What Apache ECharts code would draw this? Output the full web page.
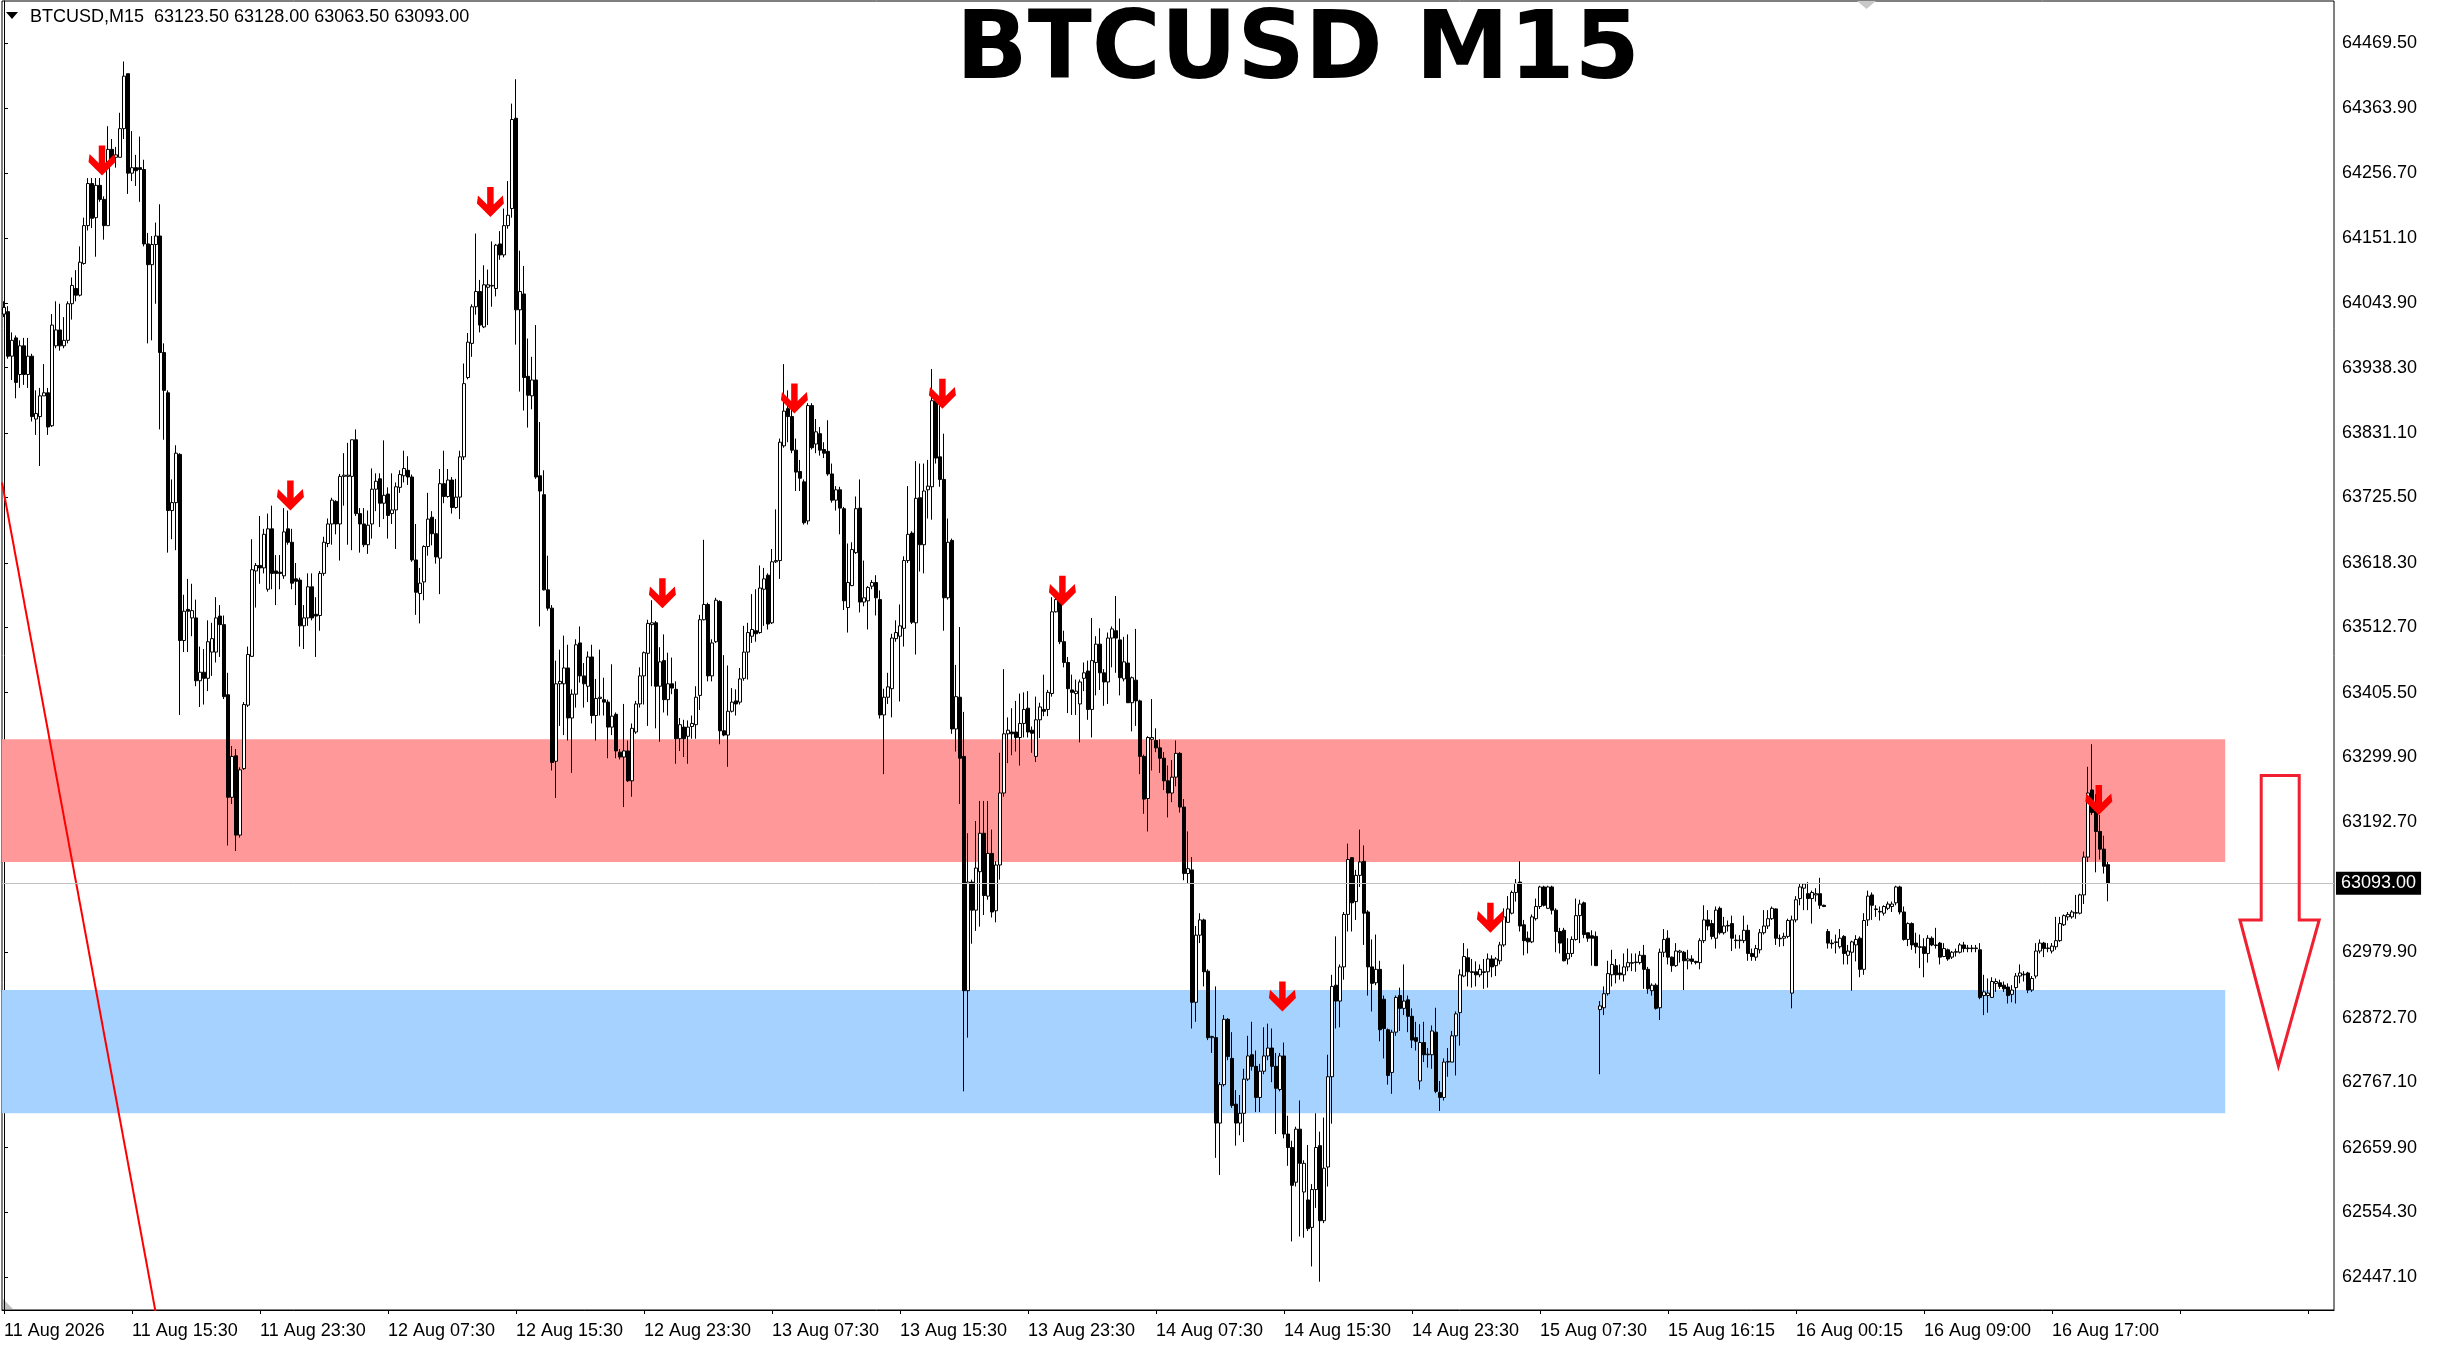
<!DOCTYPE html>
<html><head><meta charset="utf-8">
<script src="https://cdn.jsdelivr.net/npm/echarts@6/dist/echarts.min.js"></script>
<style>html,body{margin:0;padding:0;background:#fff;}#c{width:2437px;height:1346px;}</style>
</head><body><div id="c"></div>
<script>
const headerText = 'BTCUSD,M15  63123.50 63128.00 63063.50 63093.00';
const titleText = 'BTCUSD M15';

const opens = [
64026,64030,63957,63987,63927,63974,63927,63957,63854,63858,
63892,63897,63843,63974,64000,63974,63983,64043,64068,64057,
64109,64171,64240,64184,64237,64214,64171,64296,64283,64283,
64330,64420,64257,64266,64266,64263,64141,64107,64140,64154,
63963,63897,63704,63717,63796,63491,63542,63528,63528,63425,
63439,63429,63472,63472,63531,63517,63402,63234,63302,63172,
63281,63385,63465,63605,63614,63610,63575,63674,63605,63603,
63597,63674,63652,63592,63590,63515,63528,63579,63534,63532,
63601,63650,63682,63719,63682,63760,63760,63760,63820,63699,
63682,63648,63682,63739,63756,63716,63731,63699,63705,63742,
63761,63770,63759,63623,63568,63587,63645,63693,63666,63626,
63748,63727,63754,63709,63726,63792,63922,63978,64038,64063,
64005,64070,64072,64068,64141,64123,64171,64199,64347,64033,
64059,63924,63892,63918,63761,63730,63574,63544,63293,63420,
63420,63446,63364,63403,63487,63433,63416,63464,63368,63396,
63394,63390,63349,63370,63308,63300,63310,63261,63341,63387,
63433,63470,63517,63520,63416,63458,63394,63420,63411,63330,
63349,63334,63350,63353,63401,63525,63550,63433,63489,63555,
63343,63336,63375,63392,63390,63429,63472,63498,63507,63504,
63575,63598,63520,63620,63622,63810,63871,63858,63803,63768,
63751,63687,63876,63813,63830,63804,63801,63764,63721,63738,
63707,63545,63581,63635,63708,63554,63556,63580,63586,63558,
63369,63398,63412,63494,63498,63511,63622,63667,63520,63725,
63648,63738,63743,63884,63792,63755,63561,63655,63346,63398,
63301,62917,63095,63049,63112,63175,63072,63142,63048,63123,
63241,63338,63341,63341,63332,63355,63380,63344,63301,63361,
63378,63378,63404,63538,63558,63489,63455,63410,63404,63387,
63429,63441,63378,63455,63485,63438,63423,63495,63507,63492,
63428,63454,63389,63426,63392,63301,63232,63329,63327,63315,
63298,63261,63241,63267,63306,63218,63109,63115,62898,63008,
63033,62949,62840,62840,62700,62763,62870,62806,62731,62700,
62716,62772,62812,62793,62742,62785,62810,62823,62793,62755,
62810,62682,62660,62603,62690,62587,62574,62529,62591,62663,
62540,62628,62776,62926,62900,62956,63042,63135,63063,63106,
63129,63046,62956,62930,62952,62903,62853,62783,62849,62909,
62888,62902,62875,62840,62769,62832,62812,62812,62849,62750,
62742,62800,62800,62843,62881,62941,62971,62948,62948,62943,
62948,62948,62969,62958,62966,62992,63029,63044,63078,63095,
63025,63003,62997,63035,63055,63087,63052,63087,63049,63014,
63016,62969,62978,63001,63040,63061,63012,63007,63006,62886,
62889,62912,62943,62958,62946,62943,62956,62962,62963,62963,
62975,62952,62917,62926,62889,62980,63003,62972,62958,62980,
62980,62966,62969,62965,62963,62999,63033,63027,63003,63052,
63012,63023,63027,62999,62999,62999,63016,62978,62972,62984,
63012,63023,63035,63051,63003,63003,63006,62913,63033,63068,
63085,63076,63068,63074,63076,63057,63014,62995,62996,62989,
63006,62975,62980,62992,63003,62952,63033,63074,63051,63046,
63044,63052,63055,63061,63087,63046,63001,63027,62995,62989,
62989,62978,63003,62992,62995,62973,62984,62972,62980,62980,
62992,62986,62987,62986,62984,62909,62909,62906,62929,62930,
62926,62923,62911,62922,62941,62943,62946,62918,62941,62982,
62995,62986,62982,62989,62999,63025,63038,63038,63044,63044,
63074,63136,63246,63212,63178,63149,63123.5
];
const highs = [
64047,64039,63996,63991,63983,63987,63987,63961,63901,63905,
63944,63905,64026,64047,64043,64021,64047,64086,64098,64137,
64184,64249,64249,64249,64249,64219,64334,64313,64300,64356,
64440,64420,64326,64287,64317,64279,64159,64154,64176,64206,
63978,63901,63755,63811,63798,63566,63592,63584,63558,63481,
63477,63524,63520,63562,63549,63532,63438,63318,63313,63283,
63390,63481,63657,63618,63695,63674,63699,63712,63631,63631,
63708,63704,63674,63618,63594,63549,63601,63601,63562,63605,
63661,63691,63725,63721,63764,63798,63815,63820,63837,63708,
63708,63704,63773,63765,63765,63819,63742,63765,63750,63770,
63802,63793,63763,63682,63610,63647,63733,63703,63690,63772,
63802,63772,63759,63756,63802,63945,63995,64042,64158,64082,
64106,64099,64145,64141,64162,64199,64244,64371,64411,64130,
64105,63986,63956,64008,63849,63770,63630,63549,63458,63476,
63499,63484,63411,63493,63514,63454,63473,63484,63428,63476,
63430,63394,63452,63373,63313,63387,63327,63355,63392,63447,
63473,63525,63557,63523,63480,63501,63471,63463,63424,63364,
63361,63360,63368,63416,63533,63656,63553,63493,63561,63557,
63467,63450,63413,63411,63446,63515,63520,63567,63575,63614,
63610,63601,63641,63706,63822,63944,63901,63876,63822,63787,
63755,63880,63880,63854,63841,63816,63852,63781,63744,63743,
63710,63650,63652,63727,63755,63622,63580,63590,63598,63573,
63412,63438,63502,63524,63550,63629,63744,63670,63785,63781,
63781,63787,63936,63888,63888,63830,63691,63658,63451,63513,
63374,63175,63099,63195,63228,63228,63228,63181,63129,63307,
63444,63365,63380,63392,63404,63406,63408,63350,63399,63389,
63435,63410,63562,63564,63562,63507,63464,63435,63427,63427,
63455,63458,63528,63498,63511,63444,63504,63514,63564,63527,
63497,63501,63432,63510,63394,63304,63334,63395,63347,63329,
63308,63286,63295,63327,63308,63231,63178,63136,63023,63044,
63035,62952,62843,62924,62767,62877,62872,62849,62754,62746,
62789,62843,62866,62819,62797,62857,62863,62855,62815,62815,
62832,62712,62671,62694,62737,62639,62664,62600,62716,62686,
62709,62812,62943,63006,62960,63046,63158,63136,63115,63181,
63155,63049,63001,63009,62966,62909,62855,62853,62909,62922,
62960,62909,62888,62866,62862,62866,62823,62860,62889,62769,
62806,62823,62851,62883,62952,62995,62986,62969,62965,62960,
62969,62978,62975,62972,62997,63052,63072,63081,63100,63129,
63033,63014,63042,63068,63089,63089,63089,63089,63052,63020,
63020,63003,63006,63068,63066,63063,63012,63016,63014,62900,
62924,62966,62984,62969,62960,62978,62986,62978,62978,62982,
62992,62956,62929,62929,62986,63018,63016,62973,62995,62984,
62982,62984,62975,62966,63003,63057,63049,63033,63055,63055,
63038,63032,63040,63009,63008,63040,63025,62986,62992,63018,
63049,63049,63055,63052,63009,63012,63035,63040,63072,63092,
63093,63095,63081,63085,63102,63058,63018,63001,63009,63018,
63008,62992,62999,63008,63006,63044,63081,63078,63057,63055,
63057,63063,63063,63089,63089,63055,63029,63029,63012,63009,
63003,63008,63006,63020,62997,62995,62986,62982,62986,62995,
62997,62992,62992,62992,62995,62943,62937,62939,62937,62935,
62932,62929,62926,62946,62960,62949,62948,62941,62995,63001,
62997,62995,62995,63038,63038,63042,63046,63049,63074,63076,
63145,63284,63321,63239,63205,63171,63128
];
const lows = [
64021,63953,63918,63888,63905,63910,63905,63850,63828,63777,
63892,63828,63841,63970,63966,63970,63978,64017,64047,64055,
64107,64163,64167,64120,64210,64148,64171,64274,64266,64283,
64313,64223,64244,64236,64210,64137,63978,63983,64043,63837,
63820,63635,63657,63639,63369,63472,63472,63498,63416,63382,
63386,63408,63433,63455,63464,63395,63155,63223,63146,63168,
63279,63382,63464,63545,63584,63601,63571,63575,63549,63575,
63592,63648,63575,63549,63481,63477,63515,63524,63464,63507,
63597,63644,63648,63665,63622,63712,63648,63639,63695,63635,
63644,63633,63658,63703,63677,63690,63658,63682,63641,63733,
63750,63746,63620,63533,63519,63557,63630,63647,63617,63567,
63716,63725,63699,63707,63690,63787,63919,63956,64025,63996,
64003,64008,64038,64055,64115,64119,64166,64184,63976,63899,
63868,63840,63870,63756,63514,63573,63540,63278,63233,63351,
63336,63327,63274,63381,63422,63381,63390,63355,63327,63368,
63368,63298,63336,63298,63296,63218,63259,63235,63338,63381,
63386,63351,63416,63347,63325,63373,63368,63403,63289,63310,
63300,63289,63330,63330,63377,63524,63424,63424,63487,63321,
63334,63284,63373,63368,63386,63425,63427,63487,63489,63502,
63515,63509,63518,63618,63592,63807,63816,63798,63736,63736,
63681,63681,63804,63798,63794,63790,63761,63717,63704,63665,
63541,63504,63580,63633,63537,63547,63509,63575,63532,63363,
63272,63387,63365,63489,63391,63481,63618,63518,63468,63604,
63601,63691,63689,63781,63743,63507,63558,63338,63309,63223,
62752,62840,62994,63015,63022,63041,63066,63037,63029,63099,
63235,63290,63303,63309,63286,63332,63332,63307,63292,63331,
63367,63367,63399,63537,63485,63447,63372,63369,63369,63324,
63408,63361,63332,63401,63410,63384,63387,63447,63438,63401,
63424,63389,63342,63351,63272,63207,63178,63278,63308,63274,
63246,63201,63226,63252,63209,63098,63093,62855,62866,62995,
62924,62836,62815,62643,62615,62760,62803,62725,62663,62680,
62669,62769,62786,62718,62718,62780,62803,62767,62682,62752,
62675,62630,62506,62596,62514,62512,62523,62465,62561,62440,
62536,62596,62699,62855,62857,62935,63014,63014,63033,63087,
62992,62909,62883,62926,62834,62806,62763,62748,62843,62851,
62877,62849,62823,62819,62755,62800,62791,62789,62749,62720,
62737,62776,62800,62778,62827,62939,62924,62922,62924,62939,
62920,62922,62939,62941,62960,62989,63029,63042,63063,63014,
62975,62978,62995,63032,63051,63055,63051,63042,62980,62978,
62965,62960,62972,62999,62995,63003,62997,62958,62958,62780,
62877,62909,62924,62929,62935,62932,62949,62949,62948,62960,
62920,62912,62909,62886,62869,62972,62960,62948,62956,62963,
62918,62952,62960,62960,62952,62995,63016,63001,62986,63009,
63009,63014,62982,62986,62986,62995,62966,62966,62966,62978,
63009,63018,63033,62992,62989,62990,63003,62888,63029,63057,
63049,63049,63027,63063,63051,63054,62986,62986,62978,62986,
62960,62960,62917,62965,62939,62943,63023,63033,63038,63032,
63040,63049,63046,63057,63042,62999,62990,62984,62978,62954,
62939,62963,62990,62986,62960,62972,62966,62969,62973,62978,
62980,62980,62980,62980,62903,62877,62881,62905,62915,62920,
62915,62896,62898,62896,62929,62932,62913,62915,62937,62978,
62972,62980,62978,62984,62997,63023,63032,63035,63035,63042,
63059,63128,63205,63111,63132,63109,63063.5
];
const closes = [
64037,63957,63983,63914,63974,63927,63957,63858,63863,63892,
63897,63841,64008,64000,63974,63983,64043,64073,64057,64111,
64171,64240,64183,64237,64214,64171,64296,64279,64287,64330,
64416,64257,64266,64261,64263,64141,64107,64140,64154,63963,
63901,63704,63717,63798,63491,63539,63539,63540,63425,63439,
63429,63489,63494,63528,63517,63399,63234,63301,63172,63279,
63386,63468,63607,63614,63610,63665,63674,63601,63601,63601,
63669,63652,63585,63588,63515,63528,63579,63528,63531,63601,
63652,63682,63721,63682,63760,63762,63762,63820,63699,63682,
63648,63680,63739,63752,63716,63729,63696,63705,63743,63763,
63773,63759,63623,63570,63585,63645,63690,63666,63628,63748,
63727,63754,63709,63726,63792,63912,63980,64038,64063,64008,
64074,64074,64073,64139,64123,64171,64188,64345,64033,64063,
63922,63893,63918,63759,63736,63574,63544,63291,63420,63424,
63446,63364,63403,63484,63433,63420,63464,63368,63396,63398,
63390,63349,63367,63310,63300,63310,63261,63347,63387,63433,
63471,63519,63520,63416,63456,63394,63420,63413,63330,63353,
63330,63349,63355,63398,63525,63550,63433,63487,63557,63343,
63336,63375,63390,63387,63428,63472,63504,63509,63502,63577,
63592,63518,63620,63622,63816,63867,63858,63803,63767,63757,
63684,63876,63807,63833,63803,63798,63764,63721,63738,63708,
63556,63586,63640,63707,63554,63561,63578,63586,63561,63369,
63398,63415,63495,63504,63515,63622,63665,63521,63724,63648,
63736,63744,63884,63790,63755,63561,63652,63346,63399,63298,
62917,63095,63049,63118,63175,63073,63142,63046,63123,63241,
63338,63344,63338,63332,63355,63378,63341,63339,63361,63382,
63375,63406,63538,63558,63489,63455,63412,63406,63408,63423,
63438,63378,63458,63485,63438,63423,63495,63510,63495,63430,
63456,63389,63430,63392,63301,63231,63332,63332,63315,63298,
63261,63241,63267,63306,63218,63109,63117,62898,63008,63033,
62948,62840,62842,62700,62763,62870,62809,62729,62700,62716,
62772,62810,62793,62742,62785,62810,62823,62793,62757,62810,
62682,62660,62598,62690,62634,62634,62527,62591,62660,62540,
62626,62776,62924,62900,62956,63042,63132,63061,63106,63128,
63044,62956,62929,62952,62853,62855,62778,62849,62906,62888,
62900,62875,62836,62834,62832,62812,62813,62851,62752,62742,
62800,62801,62843,62879,62943,62973,62948,62947,62943,62952,
62947,62969,62956,62969,62992,63038,63051,63078,63093,63023,
62999,62997,63038,63055,63087,63057,63087,63049,63014,62995,
62966,62978,63001,63040,63059,63009,63003,63003,62958,62892,
62912,62945,62960,62943,62943,62956,62963,62963,62964,62975,
62952,62920,62926,62888,62980,63001,62972,62958,62982,62982,
62966,62969,62965,62963,62999,63033,63023,63006,63049,63012,
63023,63024,63003,63000,63000,63016,62978,62973,62986,63012,
63023,63035,63052,63003,63002,63006,63032,63033,63066,63087,
63092,63068,63078,63076,63057,63055,62995,62994,62997,63003,
62978,62982,62997,63001,62952,63032,63072,63057,63050,63047,
63055,63059,63059,63087,63046,63001,63027,62992,62989,62988,
62978,63003,62992,62991,62972,62986,62969,62980,62981,62992,
62986,62987,62986,62987,62906,62915,62913,62932,62932,62924,
62920,62909,62918,62941,62946,62944,62918,62937,62982,62995,
62986,62987,62990,62999,63027,63040,63042,63046,63045,63074,
63136,63241,63209,63178,63149,63121,63093
];

const timeLabels = ['11 Aug 2026','11 Aug 15:30','11 Aug 23:30','12 Aug 07:30','12 Aug 15:30','12 Aug 23:30','13 Aug 07:30','13 Aug 15:30','13 Aug 23:30','14 Aug 07:30','14 Aug 15:30','14 Aug 23:30','15 Aug 07:30','15 Aug 16:15','16 Aug 00:15','16 Aug 09:00','16 Aug 17:00'];
const labelStep = 32;
const totalSlots = 583;
const priceLabels = [64469.5,64363.9,64256.7,64151.1,64043.9,63938.3,63831.1,63725.5,63618.3,63512.7,63405.5,63299.9,63192.7,62979.9,62872.7,62767.1,62659.9,62554.3,62447.1];
const lastPrice = 63093.00;
const priceMin = 62393.6, priceMax = 64539.2;

const redZone = [63329, 63128];
const blueZone = [62918, 62716];
const zoneBars = [-0.5, 555.3];
const trendLine = [[-0.5, 63750], [40, 62316]];
const signalBars = [24.5, 71.6, 121.6, 164.6, 197.6, 234.6, 264.6, 319.6, 371.6, 523.7];
const signalPrices = [64253, 63704, 64185, 63544, 63863, 63871, 63548, 62883, 63012, 63205];
const bigArrow = [[564.3,63269.7],[573.8,63269.7],[573.8,63032.9],[578.8,63032.9],[568.6,62793.6],[559,63032.9],[564.3,63032.9]];

const FONT = '"Liberation Sans", Arial, sans-serif';
const categories = Array.from({length: totalSlots}, (_, i) => String(i));
const candles = opens.map((o, i) => [o, closes[i], lows[i], highs[i]]);
const zoneColors = ['#FF9999', '#A5D2FF'];

const chart = echarts.init(document.getElementById('c'), null, {renderer: 'canvas'});
chart.setOption({
  animation: false,
  backgroundColor: '#ffffff',
  grid: {left: 2, right: 103, top: 1, bottom: 36, show: true, borderColor: '#000', borderWidth: 1, backgroundColor: 'transparent'},
  xAxis: [{
    type: 'category', data: categories, boundaryGap: true,
    axisLine: {show: true, lineStyle: {color: '#000', width: 1}},
    axisTick: {show: true, alignWithLabel: true, length: 4, interval: (i) => i % labelStep === 0, lineStyle: {color: '#000'}},
    axisLabel: {show: true, interval: (i) => i % labelStep === 0, formatter: (v, i) => timeLabels[i / labelStep] || '',
      align: 'left', fontSize: 18, fontFamily: FONT, color: '#000', margin: 12},
    splitLine: {show: false}
  }, {
    type: 'value', min: -0.5, max: totalSlots - 0.5, show: false
  }],
  yAxis: {
    type: 'value', position: 'right', min: priceMin, max: priceMax, scale: true,
    axisLine: {show: true, lineStyle: {color: '#000', width: 1}},
    axisTick: {show: true, length: 4, customValues: priceLabels, lineStyle: {color: '#000'}},
    axisLabel: {show: true, customValues: priceLabels, formatter: (v) => Number(v).toFixed(2), fontSize: 18, fontFamily: FONT, color: '#000', margin: 8, padding: [6, 0, 0, 0]},
    splitLine: {show: false}
  },
  graphic: [
    {type: 'polygon', shape: {points: [[6,12],[18,12],[12,19]]}, style: {fill: '#000'}},
    {type: 'text', x: 30, y: 17.5, style: {text: headerText, font: '18px ' + FONT, fill: '#000', verticalAlign: 'middle', align: 'left'}},
    {type: 'text', x: 1298, y: 54, style: {text: titleText, font: 'bold 94px "DejaVu Sans", sans-serif', fill: '#000', align: 'center', verticalAlign: 'middle'}},
    {type: 'polygon', shape: {points: [[1857,1],[1876,1],[1866.5,9]]}, style: {fill: '#C8C8C8'}},
    {type: 'polygon', shape: {points: [[3,1299],[3,1309],[13,1309]]}, style: {fill: '#C0C0C0'}}
  ],
  series: [
    {
      type: 'custom', name: 'zones', xAxisIndex: 1, z: 1, clip: true,
      data: [[zoneBars[0], zoneBars[1], redZone[0], redZone[1], 0], [zoneBars[0], zoneBars[1], blueZone[0], blueZone[1], 1]],
      encode: {x: [0, 1], y: [2, 3]},
      renderItem: (params, api) => {
        const p1 = api.coord([api.value(0), api.value(2)]);
        const p2 = api.coord([api.value(1), api.value(3)]);
        return {type: 'rect', shape: {x: p1[0], y: p1[1], width: p2[0] - p1[0], height: p2[1] - p1[1]}, style: {fill: zoneColors[api.value(4)]}};
      },
      markLine: {
        silent: true, symbol: ['none', 'none'], animation: false,
        lineStyle: {color: '#C0C0C0', width: 1, type: 'solid'},
        label: {show: true, position: 'end', formatter: () => lastPrice.toFixed(2), color: '#fff', backgroundColor: '#000', padding: [4, 5, 1, 5], fontSize: 18, fontFamily: FONT, distance: 2},
        data: [{yAxis: lastPrice}]
      }
    },
    {
      type: 'candlestick', name: 'BTCUSD', xAxisIndex: 0, z: 3, barWidth: 3,
      data: candles,
      itemStyle: {color: '#ffffff', color0: '#000000', borderColor: '#000000', borderColor0: '#000000', borderWidth: 1}
    },
    {
      type: 'line', name: 'trend', xAxisIndex: 1, z: 4, clip: true, symbol: 'none',
      data: trendLine, lineStyle: {color: '#FF0000', width: 2}
    },
    {
      type: 'scatter', name: 'signals', xAxisIndex: 1, z: 5,
      data: signalBars.map((b, i) => [b, signalPrices[i]]),
      symbol: 'path://M38 0 L62 0 L62 58 L96 28 L100 55 L50 100 L0 55 L4 28 L38 58 Z',
      symbolSize: [27, 30], symbolOffset: [0, '-50%'],
      itemStyle: {color: '#FF0000', opacity: 1}
    },
    {
      type: 'custom', name: 'bigArrow', xAxisIndex: 1, z: 5, clip: false,
      data: [bigArrow[4]],
      renderItem: (params, api) => ({
        type: 'polygon',
        shape: {points: bigArrow.map(p => api.coord(p))},
        style: {fill: 'none', stroke: '#F02030', lineWidth: 3, lineJoin: 'miter'}
      })
    }
  ]
});
</script></body></html>
